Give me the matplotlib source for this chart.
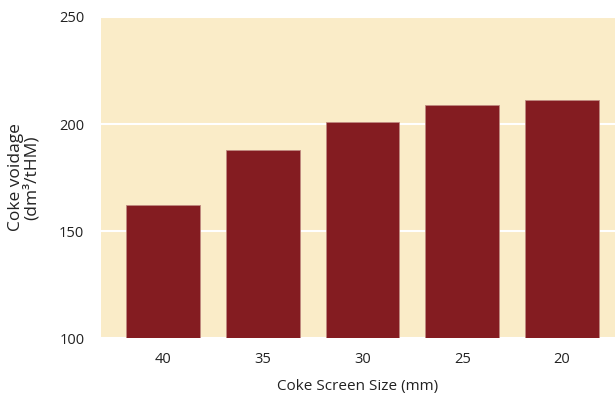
import matplotlib
matplotlib.use("Agg")
import matplotlib.pyplot as plt

categories = ["40", "35", "30", "25", "20"]
values = [162, 188, 201, 209, 211]
yticks = [100, 150, 200, 250]

plt.rcParams['font.family'] = ['Open Sans', 'DejaVu Sans']

fig = plt.figure(figsize=(6.15, 3.95), dpi=100)
ax = fig.add_axes([101/615, 1-338/395, 514/615, 321/395])
ax.set_facecolor('#FAECC8')
x = list(range(len(categories)))
ax.bar(x, [v - 100 for v in values], bottom=100, width=0.74, color='#841C21',
       edgecolor='#C08A80', linewidth=0.6, zorder=3)
ax.set_ylim(100, 250)
ax.set_xlim(-0.62, 4.53)
ax.set_yticks(yticks)
ax.set_yticklabels([str(t) for t in yticks], fontsize=10.5, color='#222222')
ax.set_xticks(x)
ax.set_xticklabels(categories, fontsize=10.5, color='#222222')
ax.tick_params(length=0, pad=10)
ax.tick_params(axis='y', pad=12)
ax.grid(axis='y', color='white', linewidth=1.5, zorder=1)
ax.set_axisbelow(True)
for s in ax.spines.values():
    s.set_visible(False)
ax.set_xlabel("Coke Screen Size (mm)", fontsize=11, color='#222222', labelpad=9)
ax.set_ylabel("Coke voidage\n(dm³/tHM)", fontsize=12.5, color='#222222', labelpad=14, linespacing=0.95)
fig.savefig("out.png", dpi=100)
